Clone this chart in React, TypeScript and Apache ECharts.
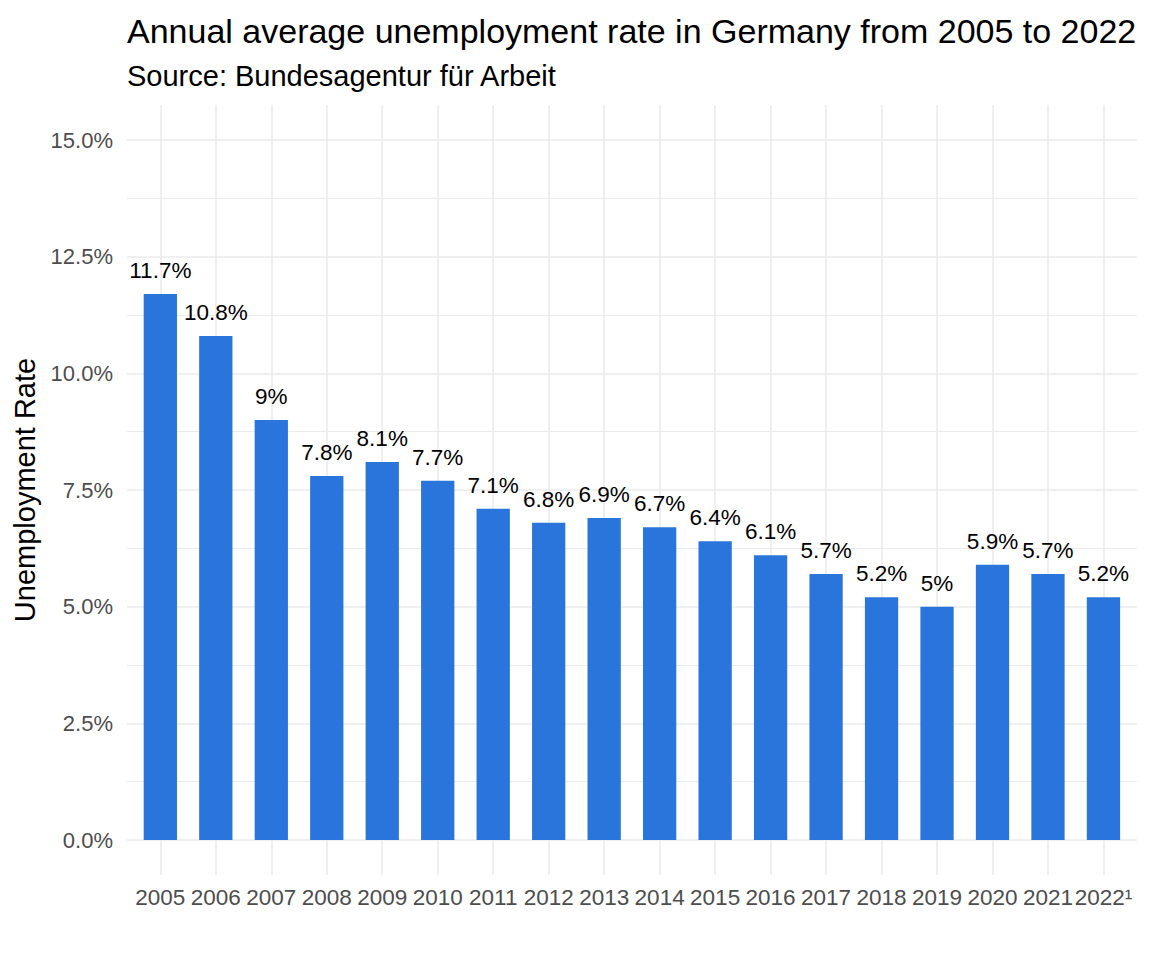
import React, { useEffect, useRef } from "react";
import * as echarts from "echarts";

const years = [
  "2005", "2006", "2007", "2008", "2009", "2010", "2011", "2012", "2013",
  "2014", "2015", "2016", "2017", "2018", "2019", "2020", "2021", "2022¹",
];
const rates = [
  11.7, 10.8, 9.0, 7.8, 8.1, 7.7, 7.1, 6.8, 6.9, 6.7, 6.4, 6.1, 5.7, 5.2, 5.0,
  5.9, 5.7, 5.2,
];
const titleText = "Annual average unemployment rate in Germany from 2005 to 2022";
const subtitleText = "Source: Bundesagentur für Arbeit";
const yName = "Unemployment Rate";

const FONT = "'Liberation Sans', Arial, sans-serif";
const GRID = "#EBEBEB";

export default function App() {
  const ref = useRef<HTMLDivElement>(null);
  useEffect(() => {
    document.body.style.margin = "0";
    const chart = echarts.init(ref.current!, null, { renderer: "svg" });
    chart.setOption({
      animation: false,
      backgroundColor: "#FFFFFF",
      textStyle: { fontFamily: FONT },
      title: [
        {
          text: titleText,
          left: 122,
          top: 9,
          textStyle: { fontSize: 34, fontWeight: "normal", color: "#000", fontFamily: FONT },
        },
        {
          text: subtitleText,
          left: 122,
          top: 56,
          textStyle: { fontSize: 29, fontWeight: "normal", color: "#000", fontFamily: FONT },
        },
      ],
      grid: [
        { left: 127, width: 1009.8, top: 140, height: 700 },
        { left: 160.3, width: 943.2, top: 105, height: 770 },
        { left: 132.6, width: 998.6, top: 140, height: 700 },
      ],
      xAxis: [
        { type: "value", gridIndex: 0, min: 0, max: 1, show: false },
        {
          type: "value",
          gridIndex: 1,
          min: 0,
          max: 17,
          interval: 1,
          axisLabel: { show: false },
          axisLine: { show: false },
          axisTick: { show: false },
          splitLine: { show: true, lineStyle: { color: GRID, width: 1.6 } },
        },
        {
          type: "category",
          gridIndex: 2,
          data: years,
          axisLine: { show: false },
          axisTick: { show: false },
          splitLine: { show: false },
          axisLabel: {
            interval: 0,
            fontSize: 22.5,
            color: "#4D4D4D",
            margin: 46,
            fontFamily: FONT,
          },
        },
      ],
      yAxis: [
        {
          type: "value",
          gridIndex: 0,
          min: 0,
          max: 15,
          interval: 2.5,
          axisLine: { show: false },
          axisTick: { show: false },
          axisLabel: {
            fontSize: 22,
            color: "#4D4D4D",
            margin: 14,
            fontFamily: FONT,
            formatter: (v: number) => v.toFixed(1) + "%",
          },
          splitLine: { show: true, lineStyle: { color: GRID, width: 1.6 } },
          minorTick: { show: false, splitNumber: 2 },
          minorSplitLine: { show: true, lineStyle: { color: GRID, width: 1 } },
          name: yName,
          nameLocation: "middle",
          nameGap: 85,
          nameTextStyle: { fontSize: 29, color: "#000", fontFamily: FONT },
        },
        { type: "value", gridIndex: 1, min: 0, max: 1, show: false },
        { type: "value", gridIndex: 2, min: 0, max: 15, show: false },
      ],
      series: [
        {
          type: "bar",
          xAxisIndex: 2,
          yAxisIndex: 2,
          data: rates,
          barWidth: "60%",
          itemStyle: { color: "#2A75DC" },
          label: {
            show: true,
            position: "top",
            distance: 12,
            fontSize: 22.5,
            color: "#000",
            fontFamily: FONT,
            formatter: "{c}%",
          },
        },
      ],
    });
    return () => chart.dispose();
  }, []);
  return <div ref={ref} style={{ width: 1152, height: 960 }} />;
}
